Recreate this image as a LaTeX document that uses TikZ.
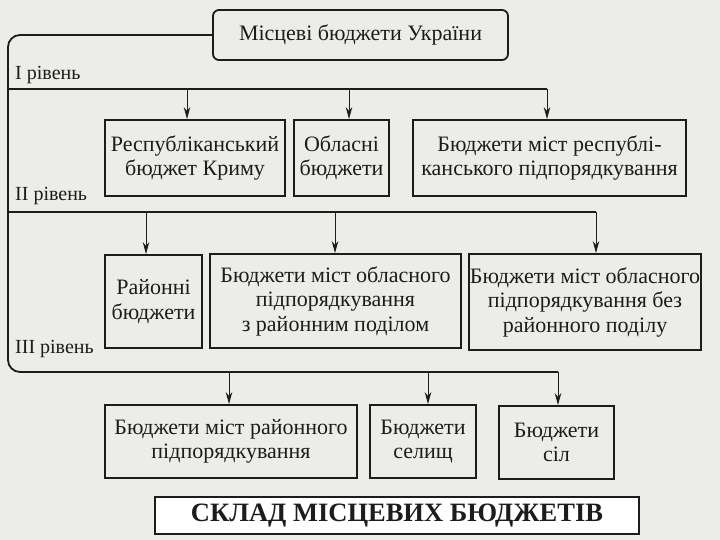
\documentclass[tikz,border=0pt]{standalone}
\usepackage{fontspec}
\setmainfont{Liberation Serif}
\usetikzlibrary{arrows.meta}
\definecolor{paper}{RGB}{236,236,233}
\definecolor{ink}{RGB}{28,28,28}
\tikzset{
  x=1pt, y=-1pt,
  box/.style={draw=ink, line width=1.8pt, align=center, inner sep=1pt,
    font=\fontsize{22}{24.5}\selectfont, text=ink},
  lvl/.style={anchor=base west, inner sep=0pt, font=\fontsize{20}{22}\selectfont, text=ink},
  frame/.style={draw=ink, line width=1.8pt},
  arr/.style={draw=ink, line width=1pt, -{Stealth[length=12pt,width=6.5pt]}},
}
\begin{document}
\begin{tikzpicture}
\fill[paper] (0,0) rectangle (720,540);
\useasboundingbox (0,0) rectangle (720,540);

% top
\node[box, rounded corners=6pt, minimum width=295pt, minimum height=50pt] (top) at (360.5,35) {Місцеві бюджети України};

% row 2
\node[box, minimum width=180pt, minimum height=76pt] (A) at (195,158) {Республіканський\\бюджет Криму};
\node[box, minimum width=95pt, minimum height=76pt] (B) at (341.5,158) {Обласні\\бюджети};
\node[box, minimum width=273pt, minimum height=76pt] (C) at (549.5,158) {Бюджети міст республі-\\канського підпорядкування};

% row 3
\node[box, minimum width=97pt, minimum height=93pt] (D) at (153.5,301.5) {Районні\\бюджети};
\node[box, minimum width=251pt, minimum height=94pt] (E) at (335.5,301) {Бюджети міст обласного\\підпорядкування\\з районним поділом};
\node[box, minimum width=230pt, minimum height=96pt] (F) at (585,302) {Бюджети міст обласного\\підпорядкування без\\районного поділу};

% row 4
\node[box, minimum width=252pt, minimum height=73pt] (G) at (231,441.5) {Бюджети міст районного\\підпорядкування};
\node[box, minimum width=106pt, minimum height=73pt] (H) at (423,441.5) {Бюджети\\селищ};
\node[box, minimum width=115pt, minimum height=73pt] (I) at (556.5,442.5) {Бюджети\\сіл};

% title
\node[box, fill=white, minimum width=484pt, minimum height=37pt, font=\fontsize{26.5}{28}\selectfont\bfseries] (T) at (397,515.5) {СКЛАД МІСЦЕВИХ БЮДЖЕТІВ};

% level labels
\node[lvl] (l1) at (15,80) {I рівень};
\node[lvl] (l2) at (15,201) {II рівень};
\node[lvl] (l3) at (15,353) {III рівень};

% frame and level lines
\coordinate (L1s) at (8,89);
\coordinate (L1a) at (187,89);
\coordinate (L1b) at (349,89);
\coordinate (L1c) at (547,89);
\coordinate (L2s) at (8,212);
\coordinate (L2a) at (146,212);
\coordinate (L2b) at (335,212);
\coordinate (L2c) at (596,212);
\coordinate (L3a) at (229,372);
\coordinate (L3b) at (428,372);
\coordinate (L3c) at (558,372);

\draw[frame, rounded corners=12pt] (top.west) -- (8,35) -- (8,372) -- (L3c);
\draw[frame] (L1s) -- (L1c);
\draw[frame] (L2s) -- (L2c);

\draw[arr] (L1a) -- (L1a |- A.north);
\draw[arr] (L1b) -- (L1b |- B.north);
\draw[arr] (L1c) -- (L1c |- C.north);
\draw[arr] (L2a) -- (L2a |- D.north);
\draw[arr] (L2b) -- (L2b |- E.north);
\draw[arr] (L2c) -- (L2c |- F.north);
\draw[arr] (L3a) -- (L3a |- G.north);
\draw[arr] (L3b) -- (L3b |- H.north);
\draw[arr] (L3c) -- (L3c |- I.north);
\end{tikzpicture}
\end{document}
